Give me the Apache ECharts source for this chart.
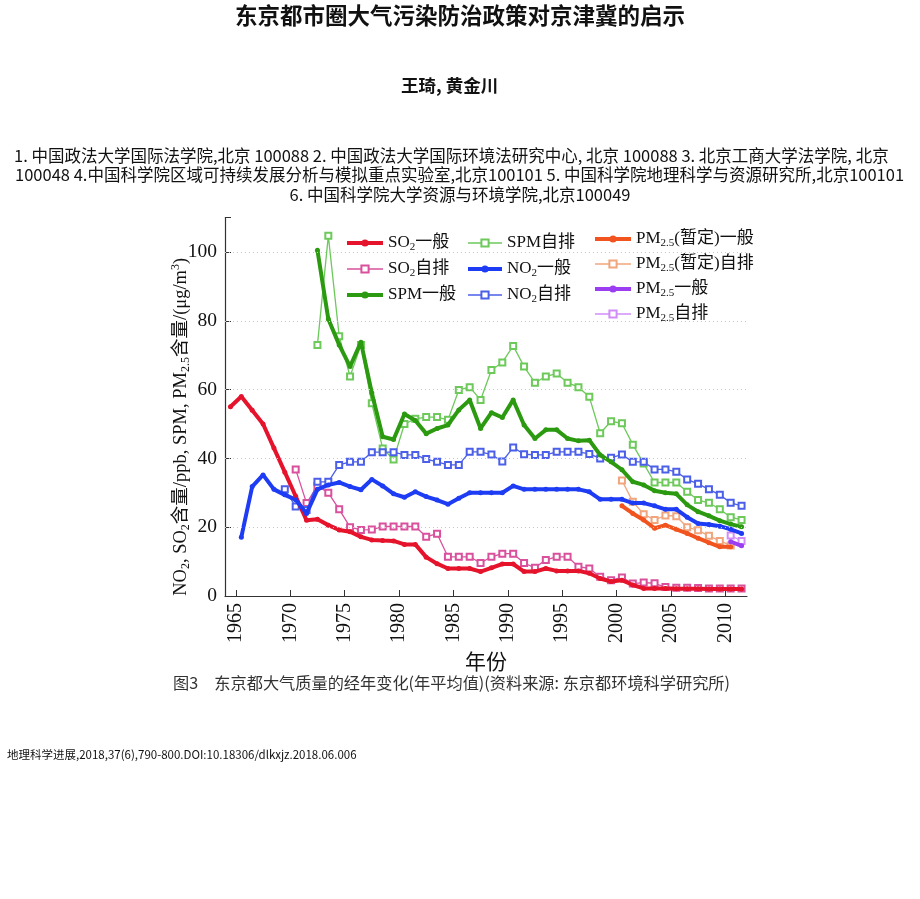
<!DOCTYPE html>
<html>
<head>
<meta charset="utf-8">
<script src="https://cdn.jsdelivr.net/npm/echarts@6/dist/echarts.min.js"></script>
<style>
html,body{margin:0;padding:0;background:#fff;}
#c{width:920px;height:899px;}
</style>
</head>
<body>
<div id="c"></div>
<script>
// ---- data (annual means) ----
const years = ['1964','1965','1966','1967','1968','1969','1970','1971','1972','1973',
  '1974','1975','1976','1977','1978','1979','1980','1981','1982','1983',
  '1984','1985','1986','1987','1988','1989','1990','1991','1992','1993',
  '1994','1995','1996','1997','1998','1999','2000','2001','2002','2003',
  '2004','2005','2006','2007','2008','2009','2010','2011'];
const tickYears = ['1964','1965','1966','1967','1968','1969','1970','1971','1972','1973',
  '1974','1975','1976','1977','1978','1979','1980','1981','1982','1983',
  '1984','1985','1986','1987','1988','1989','1990','1991','1992','1993',
  '1994','1995','1996','1997','1998','1999','2000','2001','2002','2003',
  '2004','2005','2006','2007','2008','2009','2010','2011','2012'];
const yTicks = [0, 20, 40, 60, 80, 100];
const gridValues = [20, 40, 60, 80, 100];

// SO2 一般 (1964-2011)
const so2General = [55,58,54,50,43,36,29,22,22.3,20.6,19.2,18.7,17.2,16.3,16.1,16,15,15,11.3,9.4,
  8,8,8,7.1,8.2,9.3,9.3,7.1,7.1,8,7.3,7.3,7.3,6.6,5.1,4.2,4.6,3.2,2.2,2.2,2.2,2.1,2.1,2.1,2,2,2,2];
// SO2 自排 (1970-2011)
const so2AutoStart = '1970';
const so2Auto = [36.8,27,32,30,25.2,20,19.2,19.3,20.2,20.2,20.2,20.2,17.2,18.1,11.4,11.4,11.4,9.6,11.4,12.3,
  12.3,9.6,8.2,10.5,11.4,11.4,8.5,8,5.6,4.6,5.4,3.6,3.9,3.7,2.6,2.4,2.4,2.3,2.2,2.2,2.2,2.2];
// SPM 一般 (1972-2011)
const spmGeneralStart = '1972';
const spmGeneral = [100.5,80.5,73,66.7,73.8,59,46.3,45.5,52.9,51,47.2,48.7,49.7,54.1,57,48.7,53.3,51.9,57,49.7,
  45.8,48.3,48.3,45.8,45.1,45.3,41,39,36.7,33.2,32.3,30.6,30,29.7,26.5,24.5,23.3,21.9,20.9,20.1];
// SPM 自排 (1972-2011)
const spmAutoStart = '1972';
const spmAuto = [73,104.7,75.5,63.8,73,56,42.9,39.7,50,51.5,52,52,51.2,59.9,60.7,57,65.7,67.9,72.7,66.7,
  62,63.8,64.7,62,60.7,57.9,47.3,50.8,50.2,44,38.5,33,33,33,30.3,27.9,27.1,25.2,22.9,22.1];
// NO2 一般 (1965-2011)
const no2GeneralStart = '1965';
const no2General = [17.1,31.8,35.2,31,29.4,28,24,31,32.3,33,31.8,30.9,33.9,32,29.7,28.7,30.3,28.9,27.9,26.7,
  28.4,30,30,30,30,32,31,31,31,31,31,31,30.3,28.1,28.1,28.1,27,27,26.2,25.2,25.2,22.9,21.1,20.8,20.3,19.4,18.2];
// NO2 自排 (1969-2011)
const no2AutoStart = '1969';
const no2Auto = [31,26,25,33.2,33.2,38.1,39,39,41.8,41.8,41.8,41,41,39.8,39,38.1,38.1,41.9,41.9,41.1,
  39.1,43.2,41.2,41,41,41.9,41.9,41.9,41.3,40,40.2,41.1,39,39,36.8,36.8,36.1,33.9,32.6,31,29.4,27.1,26.2];
// PM2.5(暂定) 一般 / 自排 (2000-2010)
const pmProvStart = '2000';
const pmProvGeneral = [26.2,24,22.1,19.7,20.6,19.4,18.2,16.8,15.5,14.3,14.3];
const pmProvAuto = [33.6,27.4,23.8,22.1,23.4,23.2,20,19.1,17.5,16,14.7];
// PM2.5 一般 / 自排 (2010-2011)
const pmStart = '2010';
const pmGeneral = [15.8,14.6];
const pmAuto = [17.6,16];

function pad(start, vals) {
  const out = years.map(() => null);
  const i0 = years.indexOf(start);
  vals.forEach((v, i) => { out[i0 + i] = v; });
  return out;
}

const SERIF = '"Liberation Serif", "Times New Roman", "Noto Sans CJK SC", serif';
const SANS = '"Noto Sans CJK SC", "Noto Sans", sans-serif';

function thick(name, color, data) {
  return { name, type: 'line', data, symbol: 'circle', symbolSize: 5,
    lineStyle: { width: 4, color }, itemStyle: { color }, z: 3 };
}
function thin(name, color, data) {
  return { name, type: 'line', data, symbol: 'emptyRect', symbolSize: 6,
    lineStyle: { width: 1.3, color }, itemStyle: { color, borderWidth: 1.2 }, z: 2 };
}

const richMap = {
  'SO₂一般': 'SO{s|2}一般',
  'SO₂自排': 'SO{s|2}自排',
  'SPM一般': 'SPM一般',
  'SPM自排': 'SPM自排',
  'NO₂一般': 'NO{s|2}一般',
  'NO₂自排': 'NO{s|2}自排',
  'PM₂.₅(暂定)一般': 'PM{s|2.5}(暂定)一般',
  'PM₂.₅(暂定)自排': 'PM{s|2.5}(暂定)自排',
  'PM₂.₅一般': 'PM{s|2.5}一般',
  'PM₂.₅自排': 'PM{s|2.5}自排'
};
const legendText = {
  fontSize: 17, fontFamily: SERIF, color: '#111', lineHeight: 20,
  rich: { s: { fontSize: 11, fontFamily: SERIF, color: '#111', lineHeight: 12, verticalAlign: 'bottom' } }
};
function legend(left, top, gap, w, names) {
  return { orient: 'vertical', left, top, padding: 0, itemGap: gap, itemWidth: w, itemHeight: 9,
    data: names, formatter: n => richMap[n], textStyle: legendText, selectedMode: false,
    lineStyle: { width: 'inherit' } };
}

const affStyle = { fontSize: 16.5, fontWeight: 'normal', fontFamily: SANS, color: '#111' };

const chart = echarts.init(document.getElementById('c'), null, { renderer: 'canvas' });
chart.setOption({
  backgroundColor: '#fff',
  animation: false,
  title: [
    { text: '东京都市圈大气污染防治政策对京津冀的启示', left: 'center', top: 4, padding: 0,
      textStyle: { fontSize: 22.5, fontWeight: 'bold', fontFamily: SANS, color: '#111' } },
    { text: '王琦, 黄金川', left: 401, top: 77, padding: 0,
      textStyle: { fontSize: 17.5, fontWeight: 'bold', fontFamily: SANS, color: '#111' } },
    { text: '1. 中国政法大学国际法学院,北京 100088 2. 中国政法大学国际环境法研究中心, 北京 100088 3. 北京工商大学法学院, 北京',
      left: 14, top: 147, padding: 0, textStyle: affStyle },
    { text: '100048 4.中国科学院区域可持续发展分析与模拟重点实验室,北京100101 5. 中国科学院地理科学与资源研究所,北京100101',
      left: 15, top: 166.5, padding: 0, textStyle: affStyle },
    { text: '6. 中国科学院大学资源与环境学院,北京100049',
      left: 'center', top: 186, padding: 0, textStyle: affStyle },
    { text: '图3　东京都大气质量的经年变化(年平均值)(资料来源: 东京都环境科学研究所)', left: 173, top: 675, padding: 0,
      textStyle: { fontSize: 16.2, fontWeight: 'normal', fontFamily: SANS, color: '#333' } },
    { text: '地理科学进展,2018,37(6),790-800.DOI:10.18306/dlkxjz.2018.06.006', left: 7, top: 748.5, padding: 0,
      textStyle: { fontSize: 11.5, fontWeight: 'normal', fontFamily: SANS, color: '#111' } }
  ],
  legend: [
    legend(345, 233, 6, 36, ['SO₂一般', 'SO₂自排', 'SPM一般']),
    legend(466, 233, 6, 34, ['SPM自排', 'NO₂一般', 'NO₂自排']),
    legend(593, 229, 5, 36, ['PM₂.₅(暂定)一般', 'PM₂.₅(暂定)自排', 'PM₂.₅一般', 'PM₂.₅自排'])
  ],
  grid: { left: 225, top: 217.6, width: 522, height: 378.4, containLabel: false },
  xAxis: [
    { type: 'category', data: years, boundaryGap: true, show: false },
    { type: 'category', data: tickYears, boundaryGap: false, position: 'bottom',
      name: '年份', nameLocation: 'middle', nameGap: 57,
      nameTextStyle: { fontSize: 21, fontFamily: SERIF, color: '#111' },
      axisLine: { lineStyle: { color: '#333', width: 1.2 } },
      axisTick: { inside: true, length: 6, lineStyle: { color: '#333' },
        interval: (i, v) => Number(v) % 5 === 0 },
      axisLabel: { rotate: 90, margin: 7, fontSize: 20, fontFamily: SERIF, color: '#111',
        interval: (i, v) => Number(v) % 5 === 0 },
      splitLine: { show: false } }
  ],
  yAxis: {
    type: 'value', min: 0, max: 110, interval: 20,
    name: 'NO{s|2}, SO{s|2}含量/ppb, SPM, PM{s|2.5}含量/(μg/m{p|3})',
    nameLocation: 'middle', nameGap: 33, nameRotate: 90, nameMoveOverlap: false,
    nameTextStyle: { fontSize: 18.5, fontFamily: SERIF, color: '#111', lineHeight: 22,
      padding: [0, 40, 0, 0],
      rich: { s: { fontSize: 12, fontFamily: SERIF, color: '#111', lineHeight: 13, verticalAlign: 'bottom' },
              p: { fontSize: 12, fontFamily: SERIF, color: '#111', lineHeight: 13, verticalAlign: 'top' } } },
    axisLine: { show: true, lineStyle: { color: '#333', width: 1.2 } },
    axisTick: { show: true, inside: true, length: 6, lineStyle: { color: '#333' } },
    axisLabel: { margin: 8, fontSize: 19.5, fontFamily: SERIF, color: '#111',
      formatter: v => (yTicks.indexOf(v) >= 0 ? String(v) : '') },
    splitLine: { show: false }
  },
  series: [
    Object.assign(thin('SO₂自排', '#d9509c', pad(so2AutoStart, so2Auto)), {
      markLine: { silent: true, symbol: 'none', label: { show: false },
        lineStyle: { color: '#c8c8c8', type: [1, 3], width: 1 },
        data: gridValues.map(v => ({ yAxis: v })) }
    }),
    thin('SPM自排', '#6cc95a', pad(spmAutoStart, spmAuto)),
    thin('NO₂自排', '#4b5fe8', pad(no2AutoStart, no2Auto)),
    thin('PM₂.₅(暂定)自排', '#f0a57c', pad(pmProvStart, pmProvAuto)),
    thin('PM₂.₅自排', '#d28cf8', pad(pmStart, pmAuto)),
    thick('SO₂一般', '#e5132b', pad('1964', so2General)),
    thick('SPM一般', '#2b9a10', pad(spmGeneralStart, spmGeneral)),
    thick('NO₂一般', '#1d3cf4', pad(no2GeneralStart, no2General)),
    thick('PM₂.₅(暂定)一般', '#f1541f', pad(pmProvStart, pmProvGeneral)),
    thick('PM₂.₅一般', '#9b3ef2', pad(pmStart, pmGeneral))
  ]
});
</script>
</body>
</html>
